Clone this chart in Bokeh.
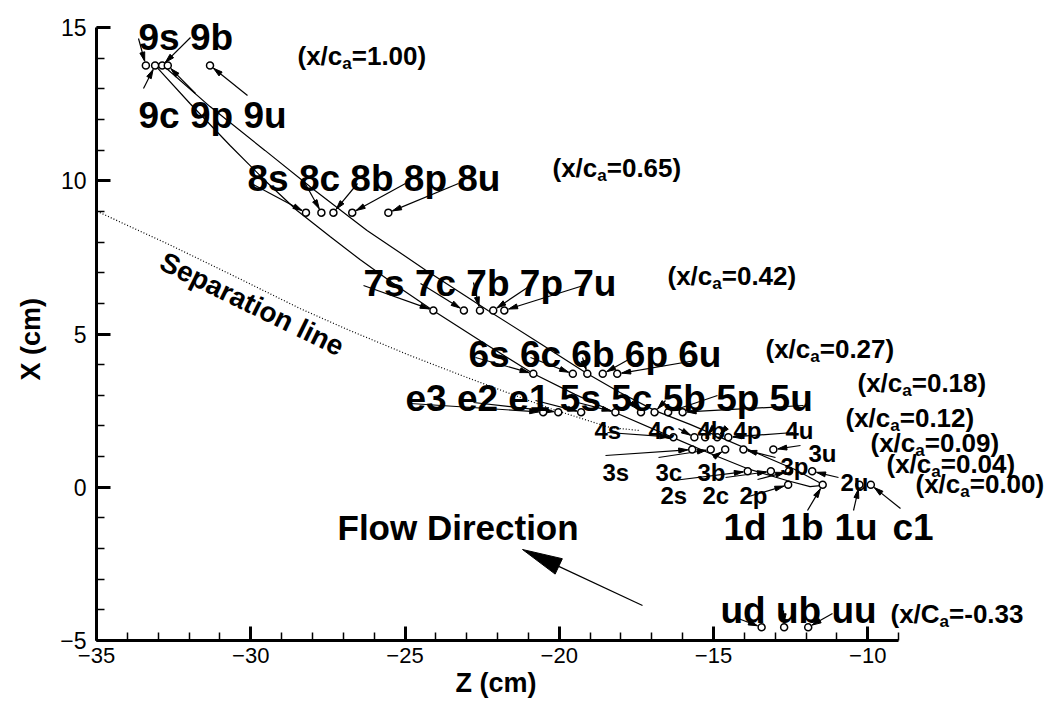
import math
from bokeh.plotting import figure
from bokeh.models import ColumnDataSource, Range1d, SingleIntervalTicker, Title
from bokeh.core.properties import value
from bokeh.embed import file_html
from bokeh.resources import INLINE

# ---------------- data (Z, X in cm) ----------------
row9_names = ["9s", "9c", "9b", "9p", "9u"]
row9_z = [-33.40, -33.10, -32.87, -32.69, -31.32]
row9_x = 13.76
row8_names = ["8s", "8c", "8b", "8p", "8u"]
row8_z = [-28.21, -27.71, -27.32, -26.71, -25.54]
row8_x = 8.96
row7_names = ["7s", "7c", "7b", "7p", "7u"]
row7_z = [-24.08, -23.09, -22.57, -22.14, -21.78]
row7_x = 5.77
row6_names = ["6s", "6c", "6b", "6p", "6u"]
row6_z = [-20.84, -19.56, -19.09, -18.59, -18.12]
row6_x = 3.70
row5_names = ["e3", "e2", "e1", "5s", "5c", "5b", "5p", "5u"]
row5_z = [-20.52, -20.03, -19.29, -18.18, -17.35, -16.91, -16.47, -16.00]
row5_x = 2.45
row4_names = ["4s", "4c", "4b", "4p", "4u"]
row4_z = [-16.30, -15.62, -15.27, -14.88, -14.52]
row4_x = 1.63
row3_names = ["3s", "3c", "3b", "3p", "3u"]
row3_z = [-15.69, -15.09, -14.62, -14.03, -13.06]
row3_x = 1.23
row2_names = ["2s", "2c", "2p", "2u"]
row2_z = [-13.89, -13.14, -12.55, -11.80]
row2_x = 0.52
row1_names = ["1d", "1b", "1u", "c1"]
row1_z = [-12.58, -11.46, -10.27, -9.90]
row1_x = 0.08
rowu_names = ["ud", "ub", "uu"]
rowu_z = [-13.44, -12.71, -11.93]
rowu_x = -4.57

suction_z = [-33.07, -31.97, -30.67, -29.54, -28.50, -27.43, -26.46, -25.32, -24.09, -22.47,
             -20.85, -19.49, -18.19, -16.31, -15.11, -13.91, -12.62, -11.87, -11.45]
suction_x = [13.73, 12.52, 11.15, 10.01, 9.03, 8.18, 7.43, 6.61, 5.77, 4.72,
             3.71, 3.03, 2.44, 1.62, 1.10, 0.61, 0.22, 0.02, 0.06]
pressure_z = [-32.84, -31.32, -29.54, -27.92, -26.23, -24.35, -22.31, -20.62, -19.10, -18.03,
              -16.90, -15.76, -14.85, -13.49, -12.36, -11.45]
pressure_x = [13.76, 12.42, 10.99, 9.68, 8.38, 7.10, 5.77, 4.69, 3.71, 3.09,
              2.50, 2.05, 1.66, 1.07, 0.58, 0.09]
separation_z = [-34.98, -32.71, -30.58, -28.40, -26.78, -24.84, -22.99, -20.30, -18.36, -17.38]
separation_x = [9.00, 7.95, 6.91, 5.83, 5.11, 4.30, 3.58, 2.57, 1.95, 1.85]

station_ratio = ["1.00", "0.65", "0.42", "0.27", "0.18", "0.12", "0.09", "0.04", "0.00", "-0.33"]

# ---------------- layout ----------------
W, H = 1046, 702
BL, BB = 96, 62
PXZ, PXX = 30.85, 30.65
frame_w, frame_h = W - BL, H - BB
Z_END = -35 + frame_w / PXZ
X_END = -5 + frame_h / PXX
ORG_X, ORG_Y = BL, frame_h

def zc(px): return -35 + (px - ORG_X) / PXZ
def xc(py): return -5 + (ORG_Y - py) / PXX
def zp(z): return ORG_X + (z + 35) * PXZ
def xp(x): return ORG_Y - (x + 5) * PXX

probes = {}
for names, zs, x in [(row9_names, row9_z, row9_x), (row8_names, row8_z, row8_x),
                     (row7_names, row7_z, row7_x), (row6_names, row6_z, row6_x),
                     (row5_names, row5_z, row5_x), (row4_names, row4_z, row4_x),
                     (row3_names, row3_z, row3_x), (row2_names, row2_z, row2_x),
                     (row1_names, row1_z, row1_x), (rowu_names, rowu_z, rowu_x)]:
    for n, z in zip(names, zs):
        probes[n] = (z, x)

# group labels: text, left px, baseline px
big_labels = [("9s 9b", 138, 37), ("9c 9p 9u", 138, 115), ("8s 8c 8b 8p 8u", 247, 178),
              ("7s 7c 7b 7p 7u", 363, 283), ("6s 6c 6b 6p 6u", 468, 354),
              ("e3 e2 e1 5s 5c 5b 5p 5u", 405, 398),
              ("1d", 723, 527), ("1b", 780, 527), ("1u", 834, 527), ("c1", 892, 527),
              ("ud ub uu", 720, 610)]
small_labels = [("4s", 594, 430), ("4c", 648, 430), ("4b", 697, 430), ("4p", 733, 430), ("4u", 785, 430),
                ("3s", 602, 472), ("3c", 655, 472), ("3b", 697, 472), ("3p", 780, 466), ("3u", 808, 453),
                ("2s", 660, 495), ("2c", 702, 495), ("2p", 739, 495), ("2u", 840, 482)]
ratio_pos = [(297, 55), (552, 167), (667, 275), (765, 348), (857, 382), (845, 417),
             (870, 442), (886, 463), (915, 483), (890, 613)]

arrow_tails = {"9s": (138, 38), "9b": (190, 37), "9c": (143, 88), "9p": (195, 93), "9u": (247, 95),
               "8s": (249, 182), "8c": (303, 180), "8b": (357, 183), "8p": (405, 183), "8u": (458, 183),
               "7s": (363, 285), "7c": (420, 283), "7b": (473, 282), "7p": (527, 287), "7u": (583, 285),
               "6s": (475, 357), "6c": (530, 357), "6b": (582, 357), "6p": (630, 358), "6u": (695, 360),
               "e3": (410, 403), "e2": (473, 402), "e1": (535, 400), "5s": (577, 402), "5c": (628, 400),
               "5b": (665, 400), "5p": (717, 395), "5u": (803, 405),
               "4s": (607, 432), "4c": (678, 428), "4b": (712, 428), "4p": (725, 428), "4u": (793, 432),
               "3s": (605, 455), "3c": (658, 457), "3b": (713, 457), "3p": (775, 457), "3u": (800, 445),
               "2s": (673, 480), "2c": (725, 477), "2p": (757, 479), "2u": (838, 477),
               "1d": (745, 497), "1b": (807, 510), "1u": (853, 510), "c1": (900, 508),
               "ud": (735, 617), "ub": (783, 610), "uu": (832, 613)}

def head_poly(tx, ty, hx, hy, L, Wd):
    d = math.hypot(hx - tx, hy - ty)
    ux, uy = (hx - tx) / d, (hy - ty) / d
    bx, by = hx - ux * L, hy - uy * L
    px = [hx, bx - uy * Wd / 2, bx + uy * Wd / 2]
    py = [hy, by + ux * Wd / 2, by - ux * Wd / 2]
    return [zc(v) for v in px], [xc(v) for v in py], (bx, by)

seg = dict(x0=[], y0=[], x1=[], y1=[])
hxs, hys = [], []
for name, (tx, ty) in arrow_tails.items():
    z, x = probes[name]
    cx, cy = zp(z), xp(x)
    d = math.hypot(cx - tx, cy - ty)
    ux, uy = (cx - tx) / d, (cy - ty) / d
    hx, hy = cx - ux * 4.5, cy - uy * 4.5
    a, b, _ = head_poly(tx, ty, hx, hy, 9, 5)
    hxs.append(a); hys.append(b)
    seg["x0"].append(zc(tx)); seg["y0"].append(xc(ty))
    seg["x1"].append(zc(hx)); seg["y1"].append(xc(hy))

# flow direction arrow
ft, fh = (642, 605), (522, 549)
fa, fb, (fbx, fby) = head_poly(ft[0], ft[1], fh[0], fh[1], 40, 17)
hxs.append(fa); hys.append(fb)
seg["x0"].append(zc(ft[0])); seg["y0"].append(xc(ft[1]))
seg["x1"].append(zc(fbx)); seg["y1"].append(xc(fby))

# ---------------- figure ----------------
p = figure(width=W, height=H, x_range=Range1d(-35, Z_END), y_range=Range1d(-5, X_END),
           output_backend="svg", toolbar_location=None,
           min_border_left=BL, min_border_right=0, min_border_top=0, min_border_bottom=BB)
p.outline_line_color = None
p.grid.visible = False
p.background_fill_color = "white"
p.border_fill_color = "white"

for ax, b in [(p.xaxis[0], (-35, -9)), (p.yaxis[0], (-5, 15))]:
    ax.bounds = b
    ax.ticker = SingleIntervalTicker(interval=5, num_minor_ticks=5)
    ax.major_label_text_font = "Liberation Sans"
    ax.major_label_text_color = "black"
    ax.axis_line_width = 3
    ax.axis_line_color = "black"
    ax.major_tick_line_width = 3
    ax.major_tick_line_color = "black"
    ax.minor_tick_line_width = 1.5
    ax.minor_tick_line_color = "black"
    ax.major_tick_in = 14
    ax.major_tick_out = 0
    ax.minor_tick_in = 8
    ax.minor_tick_out = 0
p.xaxis.major_label_text_font_size = "22px"
p.yaxis.major_label_text_font_size = "23px"
p.xaxis.major_label_standoff = 7
p.yaxis.major_label_standoff = 10

# axis titles, placed so they centre on the drawn axis extent
p.add_layout(Title(text="Z (cm)", align="left", offset=359, standoff=0,
                   text_font="Liberation Sans", text_font_style="bold", text_font_size="27px",
                   text_color="black"), "below")
p.add_layout(Title(text="X (cm)", align="left", offset=260, standoff=24,
                   text_font="Liberation Sans", text_font_style="bold", text_font_size="27px",
                   text_color="black"), "left")

F = value("Liberation Sans")
# curves
p.line(suction_z, suction_x, line_color="black", line_width=1.2)
p.line(pressure_z, pressure_x, line_color="black", line_width=1.2)
p.line(separation_z, separation_x, line_color="black", line_width=1.2, line_dash="1 2")

# arrows
p.segment(x0="x0", y0="y0", x1="x1", y1="y1", source=ColumnDataSource(seg),
          line_color="black", line_width=1.2)
p.patches(hxs, hys, fill_color="black", line_color="black", line_width=1)

# probes
pz = [v[0] for v in probes.values()]
px_ = [v[1] for v in probes.values()]
p.scatter(pz, px_, marker="circle", size=7, fill_color="white", line_color="black", line_width=1.5)

# texts
p.text(x=[zc(a) for _, a, _ in big_labels], y=[xc(b) for _, _, b in big_labels],
       text=[t for t, _, _ in big_labels], text_font=F, text_font_style="bold",
       text_font_size="37px", text_align="left", text_baseline="alphabetic", text_color="black")
p.text(x=[zc(337)], y=[xc(527)], text=["Flow Direction"], text_font=F, text_font_style="bold",
       text_font_size="35px", text_align="left", text_baseline="alphabetic", text_color="black")
p.text(x=[zc(a) for _, a, _ in small_labels], y=[xc(b) for _, _, b in small_labels],
       text=[t for t, _, _ in small_labels], text_font=F, text_font_style="bold",
       text_font_size="24px", text_align="left", text_baseline="alphabetic", text_color="black")

MAIN, SUB = 26, 17
main_src = dict(x=[], y=[], text=[], xo=[])
sub_src = dict(x=[], y=[], text=[], xo=[])
for r, (a, b) in zip(station_ratio, ratio_pos):
    head = "(x/C" if r.startswith("-") else "(x/c"
    tail = "=" + r + ("" if r.startswith("-") else ")")
    w1 = (1.889 if head.endswith("C") else 1.723) * MAIN
    wa = 0.556 * SUB
    main_src["x"] += [zc(a), zc(a)]; main_src["y"] += [xc(b), xc(b)]
    main_src["text"] += [head, tail]; main_src["xo"] += [0, w1 + wa]
    sub_src["x"].append(zc(a)); sub_src["y"].append(xc(b))
    sub_src["text"].append("a"); sub_src["xo"].append(w1)
p.text(x="x", y="y", text="text", x_offset="xo", source=ColumnDataSource(main_src),
       text_font=F, text_font_style="bold", text_font_size=f"{MAIN}px",
       text_align="left", text_baseline="alphabetic", text_color="black")
p.text(x="x", y="y", text="text", x_offset="xo", y_offset=8, source=ColumnDataSource(sub_src),
       text_font=F, text_font_style="bold", text_font_size=f"{SUB}px",
       text_align="left", text_baseline="alphabetic", text_color="black")

p.text(x=[zc(251.5)], y=[xc(303.5)], text=["Separation line"], angle=-26 * math.pi / 180,
       text_font=F, text_font_style="bold", text_font_size="28px",
       text_align="center", text_baseline="middle", text_color="black")

open("out.html", "w").write(file_html(p, INLINE))
